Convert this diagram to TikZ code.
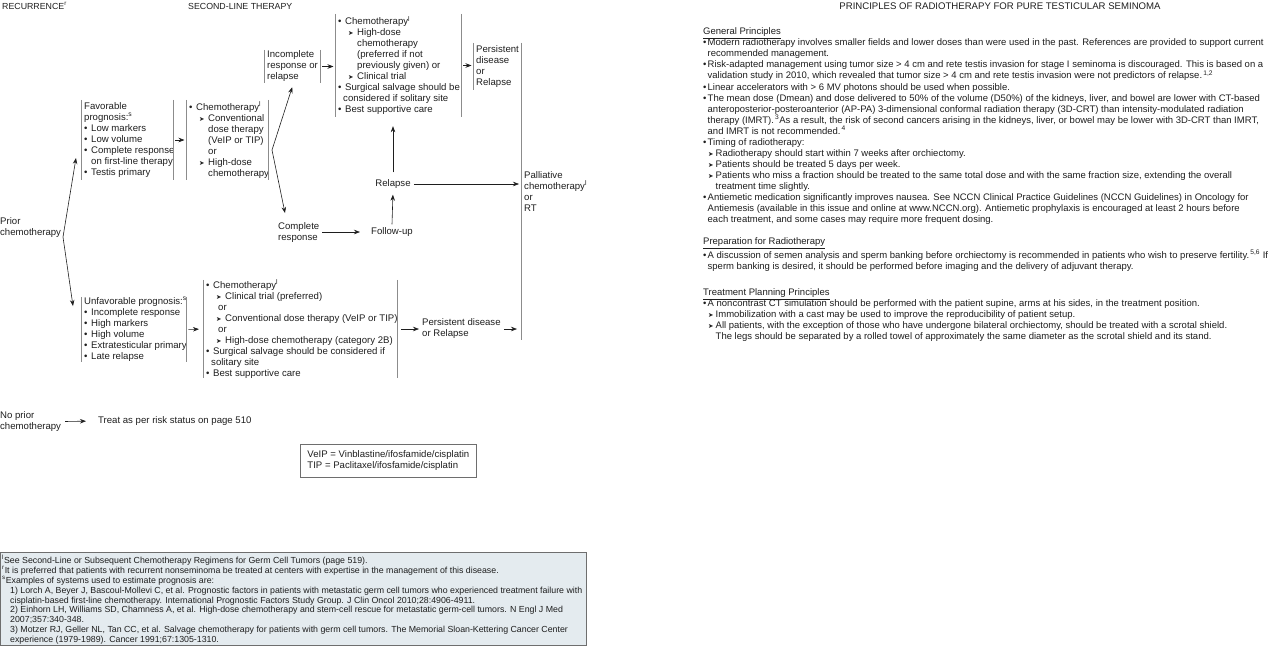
\documentclass[tikz,border=0pt]{standalone}
\usepackage{fontspec}
\setmainfont{Liberation Sans}
\newfontfamily\dejavu{DejaVu Sans}
\usepackage{tikz}
\usetikzlibrary{arrows.meta}
\usetikzlibrary{positioning, calc}

% elenchi nel diagramma
\newcommand{\itm}{\makebox[7pt][l]{•}}
\newcommand{\itmc}{\hspace*{5pt}}
\newcommand{\tri}{{\dejavu\fontsize{6.5}{6.5}\selectfont ➤}}
\newcommand{\subitm}{\hspace*{10pt}\makebox[9pt][l]{\tri}}
\newcommand{\subc}{\hspace*{19pt}}
% elenchi nel testo a destra
\newcommand{\ritm}{\makebox[4.5pt][l]{•}}
\newcommand{\ritmc}{\hspace*{4.5pt}}
\newcommand{\rsub}{\hspace*{5pt}\makebox[7.5pt][l]{\tri}}
\newcommand{\rsubc}{\hspace*{12.5pt}}
% linee laterali dei riquadri
\newcommand{\drawbrk}[1]{\draw[bracket] (#1.north west) -- (#1.south west) (#1.north east) -- (#1.south east);}

\begin{document}
\begin{tikzpicture}[x=1pt, y=-1pt,
    txt/.style={font=\fontsize{9.6}{11}\selectfont, text=ink, align=left, inner sep=3pt, anchor=west},
    frame/.style={inner sep=0pt, anchor=west},
    bracket/.style={draw=rulegray, line width=0.9pt},
    arr/.style={draw=ink, line width=0.6pt, -{Stealth[length=6pt, width=4.5pt]}},
    side/.style={font=\fontsize{9.5}{11.05}\selectfont, text=ink, align=left, inner sep=0pt, anchor=north west}]
        % Definizione dei colori
        \definecolor{ink}{RGB}{30,30,30}
        \definecolor{rulegray}{RGB}{140,140,140}
        \definecolor{notebg}{RGB}{228,235,239}
        \definecolor{noteline}{RGB}{110,110,110}
        \useasboundingbox (0,0) rectangle (1280,646);

        % Titoli
        \node[txt, font=\fontsize{8.8}{10}\selectfont] (rec) at (-1,6) {RECURRENCE\textsuperscript{r}};
        \node[txt, font=\fontsize{8.8}{10}\selectfont] (slt) at (185,6) {SECOND-LINE THERAPY};
        \node[txt, anchor=center, font=\fontsize{9.6}{10}\selectfont] (prt) at (1000,6) {PRINCIPLES OF RADIOTHERAPY FOR PURE TESTICULAR SEMINOMA};

        % Chemioterapia precedente
        \node[txt] (prior) at (-3,228) {Prior\\chemotherapy};
        \coordinate (v0) at (63,237);
        \coordinate (favin) at (76,158);
        \coordinate (unfin) at (73,306);

        % Prognosi favorevole
        \node[frame, minimum width=92pt, minimum height=80pt] (fav) at (81,140) {};
        \node[txt] (favt) at (fav.west) {Favorable\\prognosis:\textsuperscript{s}\\\itm Low markers\\\itm Low volume\\\itm Complete response\\\hspace*{7pt}on first-line therapy\\\itm Testis primary};
        \drawbrk{fav}
        \node[frame, minimum width=82pt, minimum height=80pt] (chemoa) at (186,140) {};
        \node[txt] (chemoat) at (chemoa.west) {\itm Chemotherapy\textsuperscript{l}\\\subitm Conventional\\\subc dose therapy\\\subc (VeIP or TIP)\\\subc or\\\subitm High-dose\\\subc chemotherapy};
        \drawbrk{chemoa}
        \coordinate (v1) at (272,150);

        \node[frame, minimum width=56pt, minimum height=33pt] (inc) at (264,66.5) {};
        \node[txt] (inct) at (inc.west) {Incomplete\\response or\\relapse};
        \drawbrk{inc}
        \node[frame, minimum width=126pt, minimum height=103pt] (chemob) at (335,65.5) {};
        \node[txt] (chemobt) at (chemob.west) {\itm Chemotherapy\textsuperscript{l}\\\subitm High-dose\\\subc chemotherapy\\\subc (preferred if not\\\subc previously given) or\\\subitm Clinical trial\\\itm Surgical salvage should be\\\itmc considered if solitary site\\\itm Best supportive care};
        \drawbrk{chemob}
        \node[frame, minimum width=48pt, minimum height=47pt] (pers) at (473,66.5) {};
        \node[txt] (perst) at (pers.west) {Persistent\\disease\\or\\Relapse};
        \drawbrk{pers}

        \node[frame, minimum width=70pt, minimum height=297pt] (pall) at (521,191.5) {};
        \node[txt] (pallt) at (pall.west) {Palliative\\chemotherapy\textsuperscript{l}\\or\\RT};
        \draw[bracket] (pall.north west) -- (pall.south west);

        \node[txt, anchor=center] (rel) at (393,184) {Relapse};
        \node[txt, anchor=center] (fol) at (392,232) {Follow-up};
        \node[txt] (cmp) at (275,233) {Complete\\response};
        \coordinate (cmpin) at (285,213);

        % Prognosi sfavorevole
        \node[frame, minimum width=105pt, minimum height=65pt] (unf) at (81,329.5) {};
        \node[txt] (unft) at (unf.west) {Unfavorable prognosis:\textsuperscript{s}\\\itm Incomplete response\\\itm High markers\\\itm High volume\\\itm Extratesticular primary\\\itm Late relapse};
        \drawbrk{unf}
        \node[frame, minimum width=194pt, minimum height=98pt] (chemoc) at (203,329) {};
        \node[txt] (chemoct) at (chemoc.west) {\itm Chemotherapy\textsuperscript{l}\\\subitm Clinical trial (preferred)\\\hspace*{12pt}or\\\subitm Conventional dose therapy (VeIP or TIP)\\\hspace*{12pt}or\\\subitm High-dose chemotherapy (category 2B)\\\itm Surgical salvage should be considered if\\\itmc solitary site\\\itm Best supportive care};
        \drawbrk{chemoc}
        \node[txt] (pdr) at (419,329) {Persistent disease\\or Relapse};

        % Nessuna chemioterapia precedente
        \node[txt] (nop) at (-3,421.5) {No prior\\chemotherapy};
        \node[txt] (treat) at (95,421) {Treat as per risk status on page 510};

        % Frecce
        \draw[arr] (v0) -- (favin);
        \draw[arr] (v0) -- (unfin);
        \draw[arr, shorten <=2pt, shorten >=1.5pt] (fav.east) -- (chemoa.west);
        \draw[arr] (v1) -- ([yshift=-4pt]inc.south);
        \draw[arr] (v1) -- (cmpin);
        \draw[arr, shorten <=2pt, shorten >=1.5pt] (inc.east) -- (inc.east -| chemob.west);
        \draw[arr, shorten <=2pt, shorten >=1.5pt] (chemob.east) -- (chemob.east -| pers.west);
        \draw[arr, shorten <=4pt, shorten >=9pt] (rel.north) -- (rel.north |- chemob.south);
        \draw[arr, shorten >=3pt] (fol.north) -- (rel.south);
        \draw[arr, shorten >=8pt] (cmp.east |- fol) -- (fol.west);
        \draw[arr, shorten >=2pt] (rel.east) -- (rel.east -| pall.west);
        \draw[arr, shorten <=2pt, shorten >=4pt] (unf.east) -- (chemoc.west);
        \draw[arr, shorten <=4pt] (chemoc.east) -- (chemoc.east -| pdr.west);
        \draw[arr, shorten >=4pt] (pdr.east) -- (pdr.east -| pall.west);
        \draw[arr, shorten <=1pt, shorten >=9pt] (nop.east) -- (treat.west);

        % Legenda abbreviazioni
        \node[txt, anchor=west, draw=noteline, line width=0.7pt, minimum width=176pt, minimum height=33pt] (abbr) at (300,460.5) {VeIP = Vinblastine/ifosfamide/cisplatin\\TIP = Paclitaxel/ifosfamide/cisplatin};

        % Note a pie' di pagina
        \node[frame, anchor=north west, draw=noteline, fill=notebg, line width=0.7pt, minimum width=586pt, minimum height=93pt] (notes) at (0,552) {};
        \node[side, font=\fontsize{8.8}{9.9}\selectfont] (notest) at (2,555) {\textsuperscript{l}See Second-Line or Subsequent Chemotherapy Regimens for Germ Cell Tumors (page 519).\\
        \textsuperscript{r}It is preferred that patients with recurrent nonseminoma be treated at centers with expertise in the management of this disease.\\
        \textsuperscript{s}Examples of systems used to estimate prognosis are:\\
        \hspace*{8pt}1) Lorch A, Beyer J, Bascoul-Mollevi C, et al. Prognostic factors in patients with metastatic germ cell tumors who experienced treatment failure with\\
        \hspace*{8pt}cisplatin-based first-line chemotherapy. International Prognostic Factors Study Group. J Clin Oncol 2010;28:4906-4911.\\
        \hspace*{8pt}2) Einhorn LH, Williams SD, Chamness A, et al. High-dose chemotherapy and stem-cell rescue for metastatic germ-cell tumors. N Engl J Med\\
        \hspace*{8pt}2007;357:340-348.\\
        \hspace*{8pt}3) Motzer RJ, Geller NL, Tan CC, et al. Salvage chemotherapy for patients with germ cell tumors. The Memorial Sloan-Kettering Cancer Center\\
        \hspace*{8pt}experience (1979-1989). Cancer 1991;67:1305-1310.};

        % Principi di radioterapia
        \node[side] (gen) at (703,27.7) {\underline{General Principles}\\
        \ritm Modern radiotherapy involves smaller fields and lower doses than were used in the past. References are provided to support current\\
        \ritmc recommended management.\\
        \ritm Risk-adapted management using tumor size > 4 cm and rete testis invasion for stage I seminoma is discouraged. This is based on a\\
        \ritmc validation study in 2010, which revealed that tumor size > 4 cm and rete testis invasion were not predictors of relapse.\textsuperscript{\,1,2}\\
        \ritm Linear accelerators with > 6 MV photons should be used when possible.\\
        \ritm The mean dose (Dmean) and dose delivered to 50\% of the volume (D50\%) of the kidneys, liver, and bowel are lower with CT-based\\
        \ritmc anteroposterior-posteroanterior (AP-PA) 3-dimensional conformal radiation therapy (3D-CRT) than intensity-modulated radiation\\
        \ritmc therapy (IMRT).\textsuperscript{\,3}As a result, the risk of second cancers arising in the kidneys, liver, or bowel may be lower with 3D-CRT than IMRT,\\
        \ritmc and IMRT is not recommended.\textsuperscript{\,4}\\
        \ritm Timing of radiotherapy:\\
        \rsub Radiotherapy should start within 7 weeks after orchiectomy.\\
        \rsub Patients should be treated 5 days per week.\\
        \rsub Patients who miss a fraction should be treated to the same total dose and with the same fraction size, extending the overall\\
        \rsubc treatment time slightly.\\
        \ritm Antiemetic medication significantly improves nausea. See NCCN Clinical Practice Guidelines (NCCN Guidelines) in Oncology for\\
        \ritmc Antiemesis (available in this issue and online at www.NCCN.org). Antiemetic prophylaxis is encouraged at least 2 hours before\\
        \ritmc each treatment, and some cases may require more frequent dosing.};
        \node[side] (prep) at (703,237.7) {\underline{Preparation for Radiotherapy}\\
        \ritm A discussion of semen analysis and sperm banking before orchiectomy is recommended in patients who wish to preserve fertility.\textsuperscript{\,5,6} If\\
        \ritmc sperm banking is desired, it should be performed before imaging and the delivery of adjuvant therapy.};
        \node[side] (plan) at (703,288.7) {\underline{Treatment Planning Principles}\\
        \ritm A noncontrast CT simulation should be performed with the patient supine, arms at his sides, in the treatment position.\\
        \rsub Immobilization with a cast may be used to improve the reproducibility of patient setup.\\
        \rsub All patients, with the exception of those who have undergone bilateral orchiectomy, should be treated with a scrotal shield.\\
        \rsubc The legs should be separated by a rolled towel of approximately the same diameter as the scrotal shield and its stand.};
    \end{tikzpicture}
\end{document}
